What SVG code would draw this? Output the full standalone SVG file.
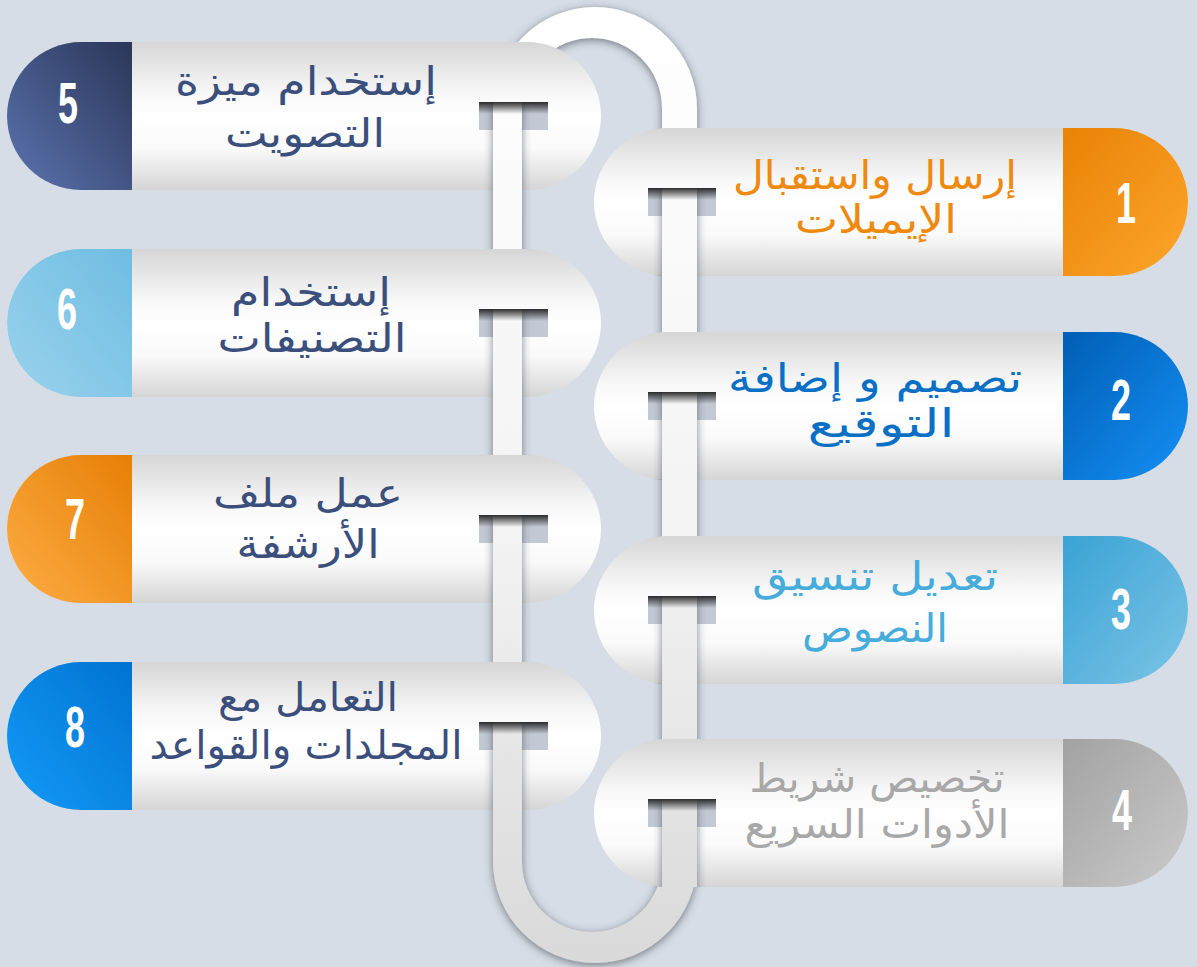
<svg xmlns="http://www.w3.org/2000/svg" width="1197" height="967" viewBox="0 0 1197 967">
<style>
.body{fill:url(#gBody)}
.slot{fill:#c3c9d4}
.band{fill:url(#gBand)}
.tube{fill:url(#gTube)}
.lbl{font-family:"DejaVu Sans",sans-serif;font-size:40px;text-anchor:middle}
.num{font-family:"Liberation Sans",Arial,sans-serif;font-weight:bold;font-size:57px;fill:#ffffff;text-anchor:middle}
.navy{fill:#3b4f7c}
</style>
<defs>
<linearGradient id="gBody" x1="0" y1="0" x2="0" y2="1">
<stop offset="0" stop-color="#d6d6d6"/>
<stop offset="0.35" stop-color="#f8f8f8"/>
<stop offset="0.5" stop-color="#ffffff"/>
<stop offset="0.72" stop-color="#fafafa"/>
<stop offset="1" stop-color="#d5d5d5"/>
</linearGradient>
<linearGradient id="gBand" x1="0" y1="0" x2="0" y2="1">
<stop offset="0" stop-color="#222" stop-opacity="0.95"/>
<stop offset="1" stop-color="#222" stop-opacity="0"/>
</linearGradient>
<linearGradient id="gTube" gradientUnits="userSpaceOnUse" x1="0" y1="0" x2="0" y2="967">
<stop offset="0" stop-color="#ffffff"/>
<stop offset="0.55" stop-color="#f3f3f3"/>
<stop offset="1" stop-color="#d9d9d9"/>
</linearGradient>
<filter id="shadow" x="-50%" y="-10%" width="200%" height="120%">
<feGaussianBlur in="SourceAlpha" stdDeviation="4.5"/>
<feOffset dy="2" result="b"/>
<feFlood flood-color="#3a3f48" flood-opacity="0.65"/>
<feComposite in2="b" operator="in"/>
<feMerge><feMergeNode/><feMergeNode in="SourceGraphic"/></feMerge>
</filter>
<linearGradient id="c5" x1="1" y1="0" x2="0" y2="1"><stop offset="0" stop-color="#2b3658"/><stop offset="1" stop-color="#5b74b0"/></linearGradient>
<linearGradient id="c6" x1="1" y1="0" x2="0" y2="1"><stop offset="0" stop-color="#6fbde2"/><stop offset="1" stop-color="#9ad2ec"/></linearGradient>
<linearGradient id="c7" x1="1" y1="0" x2="0" y2="1"><stop offset="0" stop-color="#e67f06"/><stop offset="1" stop-color="#fdad45"/></linearGradient>
<linearGradient id="c8" x1="1" y1="0" x2="0" y2="1"><stop offset="0" stop-color="#0073d2"/><stop offset="1" stop-color="#149af8"/></linearGradient>
<linearGradient id="c1" x1="0" y1="0" x2="1" y2="1"><stop offset="0" stop-color="#e88306"/><stop offset="1" stop-color="#fda52b"/></linearGradient>
<linearGradient id="c2" x1="0" y1="0" x2="1" y2="1"><stop offset="0" stop-color="#005eb5"/><stop offset="1" stop-color="#1590f5"/></linearGradient>
<linearGradient id="c3" x1="0" y1="0" x2="1" y2="1"><stop offset="0" stop-color="#3aa3d5"/><stop offset="1" stop-color="#7cc4e6"/></linearGradient>
<linearGradient id="c4" x1="0" y1="0" x2="1" y2="1"><stop offset="0" stop-color="#a2a2a2"/><stop offset="1" stop-color="#cacaca"/></linearGradient>
<clipPath id="k5"><rect x="440" y="102" width="140" height="88"/></clipPath>
<clipPath id="k6"><rect x="440" y="309" width="140" height="88"/></clipPath>
<clipPath id="k7"><rect x="440" y="515" width="140" height="88"/></clipPath>
<clipPath id="k8"><rect x="440" y="722" width="140" height="88"/></clipPath>
<clipPath id="k1"><rect x="610" y="188" width="140" height="88"/></clipPath>
<clipPath id="k2"><rect x="610" y="392" width="140" height="88"/></clipPath>
<clipPath id="k3"><rect x="610" y="596" width="140" height="88"/></clipPath>
<clipPath id="k4"><rect x="610" y="799" width="140" height="88"/></clipPath>
</defs>
<rect width="1197" height="967" fill="#d6dde6"/>

<g id="connectors">
<path class="tube" filter="url(#shadow)" fill-rule="evenodd" d="M493,109 A102,102 0 0 1 697,109 L697,861 A102,102 0 0 1 493,861 Z M522,108 L522,862 A70,70 0 0 0 662,862 L662,108 A70,70 0 0 0 522,108 Z"/>
</g>

<g id="node5">
<rect class="body" x="7" y="42" width="594" height="148" rx="74"/>
<path fill="url(#c5)" d="M132,42 L81,42 A74,74 0 0 0 81,190 L132,190 Z"/>
<rect class="slot" x="479" y="102" width="69" height="28"/>
<rect class="tube" x="493" y="102" width="29" height="100" filter="url(#shadow)" clip-path="url(#k5)"/>
<rect class="band" x="479" y="102" width="69" height="12"/>
<text class="num" transform="translate(68,123) scale(0.63,1)">5</text>
<text class="lbl navy" x="306" y="95" textLength="262" lengthAdjust="spacingAndGlyphs">إستخدام ميزة</text>
<text class="lbl navy" x="305" y="147" textLength="160" lengthAdjust="spacingAndGlyphs">التصويت</text>
</g>

<g id="node6">
<rect class="body" x="7" y="249" width="594" height="148" rx="74"/>
<path fill="url(#c6)" d="M132,249 L81,249 A74,74 0 0 0 81,397 L132,397 Z"/>
<rect class="slot" x="479" y="309" width="69" height="28"/>
<rect class="tube" x="493" y="309" width="29" height="100" filter="url(#shadow)" clip-path="url(#k6)"/>
<rect class="band" x="479" y="309" width="69" height="12"/>
<text class="num" transform="translate(67,329) scale(0.63,1)">6</text>
<text class="lbl navy" x="311" y="306" textLength="160" lengthAdjust="spacingAndGlyphs">إستخدام</text>
<text class="lbl navy" x="312" y="352" textLength="189" lengthAdjust="spacingAndGlyphs">التصنيفات</text>
</g>

<g id="node7">
<rect class="body" x="7" y="455" width="594" height="148" rx="74"/>
<path fill="url(#c7)" d="M132,455 L81,455 A74,74 0 0 0 81,603 L132,603 Z"/>
<rect class="slot" x="479" y="515" width="69" height="28"/>
<rect class="tube" x="493" y="515" width="29" height="100" filter="url(#shadow)" clip-path="url(#k7)"/>
<rect class="band" x="479" y="515" width="69" height="12"/>
<text class="num" transform="translate(75,539) scale(0.63,1)">7</text>
<text class="lbl navy" x="308" y="507" textLength="190" lengthAdjust="spacingAndGlyphs">عمل ملف</text>
<text class="lbl navy" x="308" y="558" textLength="143" lengthAdjust="spacingAndGlyphs">الأرشفة</text>
</g>

<g id="node8">
<rect class="body" x="7" y="662" width="594" height="148" rx="74"/>
<path fill="url(#c8)" d="M132,662 L81,662 A74,74 0 0 0 81,810 L132,810 Z"/>
<rect class="slot" x="479" y="722" width="69" height="28"/>
<rect class="tube" x="493" y="722" width="29" height="100" filter="url(#shadow)" clip-path="url(#k8)"/>
<rect class="band" x="479" y="722" width="69" height="12"/>
<text class="num" transform="translate(75,747) scale(0.63,1)">8</text>
<text class="lbl navy" x="308" y="711" textLength="180" lengthAdjust="spacingAndGlyphs">التعامل مع</text>
<text class="lbl navy" x="306" y="759" textLength="313" lengthAdjust="spacingAndGlyphs">المجلدات والقواعد</text>
</g>

<g id="node1">
<rect class="body" x="594" y="128" width="594" height="148" rx="74"/>
<path fill="url(#c1)" d="M1063,128 L1114,128 A74,74 0 0 1 1114,276 L1063,276 Z"/>
<rect class="slot" x="648" y="188" width="68" height="28"/>
<rect class="tube" x="662" y="188" width="35" height="100" filter="url(#shadow)" clip-path="url(#k1)"/>
<rect class="band" x="648" y="188" width="68" height="12"/>
<text class="num" transform="translate(1126,223) scale(0.63,1)">1</text>
<text class="lbl" fill="#ee8a10" x="875" y="189" textLength="284" lengthAdjust="spacingAndGlyphs">إرسال واستقبال</text>
<text class="lbl" fill="#ee8a10" x="876" y="233" textLength="162" lengthAdjust="spacingAndGlyphs">الإيميلات</text>
</g>

<g id="node2">
<rect class="body" x="594" y="332" width="594" height="148" rx="74"/>
<path fill="url(#c2)" d="M1063,332 L1114,332 A74,74 0 0 1 1114,480 L1063,480 Z"/>
<rect class="slot" x="648" y="392" width="68" height="28"/>
<rect class="tube" x="662" y="392" width="35" height="100" filter="url(#shadow)" clip-path="url(#k2)"/>
<rect class="band" x="648" y="392" width="68" height="12"/>
<text class="num" transform="translate(1121,420) scale(0.63,1)">2</text>
<text class="lbl" fill="#0a70c6" x="875" y="392" textLength="294" lengthAdjust="spacingAndGlyphs">تصميم و إضافة</text>
<text class="lbl" fill="#0a70c6" x="881" y="437" textLength="147" lengthAdjust="spacingAndGlyphs">التوقيع</text>
</g>

<g id="node3">
<rect class="body" x="594" y="536" width="594" height="148" rx="74"/>
<path fill="url(#c3)" d="M1063,536 L1114,536 A74,74 0 0 1 1114,684 L1063,684 Z"/>
<rect class="slot" x="648" y="596" width="68" height="28"/>
<rect class="tube" x="662" y="596" width="35" height="100" filter="url(#shadow)" clip-path="url(#k3)"/>
<rect class="band" x="648" y="596" width="68" height="12"/>
<text class="num" transform="translate(1121,629) scale(0.63,1)">3</text>
<text class="lbl" fill="#45acdb" x="875" y="590" textLength="246" lengthAdjust="spacingAndGlyphs">تعديل تنسيق</text>
<text class="lbl" fill="#45acdb" x="875" y="642" textLength="146" lengthAdjust="spacingAndGlyphs">النصوص</text>
</g>

<g id="node4">
<rect class="body" x="594" y="739" width="594" height="148" rx="74"/>
<path fill="url(#c4)" d="M1063,739 L1114,739 A74,74 0 0 1 1114,887 L1063,887 Z"/>
<rect class="slot" x="648" y="799" width="68" height="28"/>
<rect class="tube" x="662" y="799" width="35" height="100" filter="url(#shadow)" clip-path="url(#k4)"/>
<rect class="band" x="648" y="799" width="68" height="12"/>
<text class="num" transform="translate(1122,830) scale(0.63,1)">4</text>
<text class="lbl" fill="#a8a8a8" x="877" y="792" textLength="255" lengthAdjust="spacingAndGlyphs">تخصيص شريط</text>
<text class="lbl" fill="#a8a8a8" x="877" y="838" textLength="265" lengthAdjust="spacingAndGlyphs">الأدوات السريع</text>
</g>
</svg>
